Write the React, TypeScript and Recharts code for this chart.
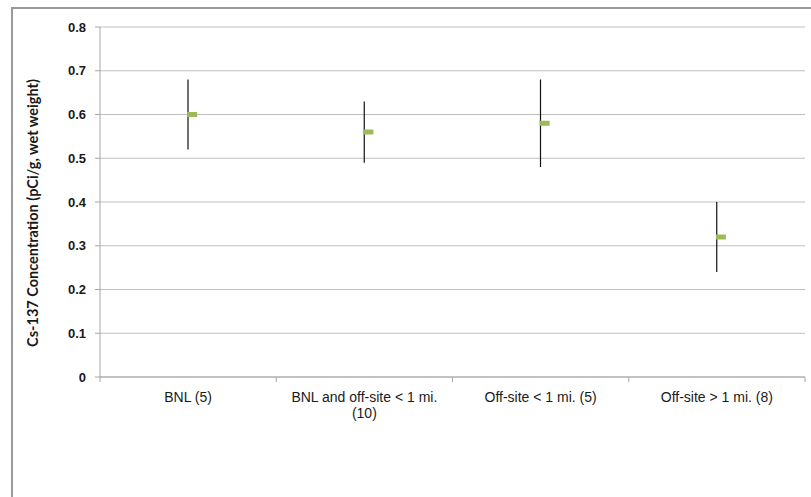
import { ComposedChart, Bar, Scatter, XAxis, YAxis, CartesianGrid, Label, Text } from 'recharts'

const categories = ['BNL (5)', 'BNL and off-site  < 1 mi. (10)', 'Off-site < 1 mi. (5)', 'Off-site > 1 mi. (8)']
const highs = [0.68, 0.63, 0.68, 0.4]
const lows = [0.52, 0.49, 0.48, 0.24]
const means = [0.6, 0.56, 0.58, 0.32]
const yTicks = [0, 0.1, 0.2, 0.3, 0.4, 0.5, 0.6, 0.7, 0.8]

const chartData = categories.map((name, i) => ({
  name,
  range: [lows[i], highs[i]],
  mean: means[i],
}))

const axisGray = '#a6a6a6'
const gridGray = '#bfbfbf'

const RangeLine = (props: any) => {
  const { x, y, width, height } = props
  const cx = x + width / 2
  const top = Math.min(y, y + height)
  const bottom = Math.max(y, y + height)
  return <line x1={cx} x2={cx} y1={top} y2={bottom} stroke="#111" strokeWidth={1.2} />
}

const MeanDash = (props: any) => {
  const { cx, cy } = props
  return <rect x={cx - 1} y={cy - 2.5} width={10} height={5} fill="#9bbb59" />
}

const CategoryTick = (props: any) => {
  const { x, y, payload, index } = props
  const half = payload && payload.offset ? payload.offset : 88
  return (
    <g>
      <line x1={x - half} x2={x - half} y1={y} y2={y + 5} stroke={axisGray} />
      {index === categories.length - 1 && (
        <line x1={x + half} x2={x + half} y1={y} y2={y + 5} stroke={axisGray} />
      )}
      <Text
        x={x}
        y={y + 15}
        width={half * 2 - 6}
        textAnchor="middle"
        verticalAnchor="start"
        lineHeight={16.5}
        fontSize={14}
        fontFamily="'Liberation Sans', Arial, sans-serif"
        fill="#1a1a1a"
      >
        {payload.value}
      </Text>
    </g>
  )
}

const YTitle = (props: any) => {
  const { viewBox } = props
  const x = viewBox.x + 19
  const y = viewBox.y + viewBox.height / 2 + 11
  return (
    <text
      x={x}
      y={y}
      transform={`rotate(-90, ${x}, ${y})`}
      textAnchor="middle"
      dominantBaseline="central"
      fontSize={14.5}
      fontWeight={700}
      fontFamily="Lato, 'Open Sans', sans-serif"
      fill="#1a1a1a"
    >
      Cs-137 Concentration (pCi/g, wet weight)
    </text>
  )
}

export default function App() {
  return (
    <div
      style={{
        position: 'absolute',
        left: 11,
        top: 7,
        width: 798,
        height: 488,
        borderLeft: '2px solid #9a9a9a',
        borderTop: '2px solid #9a9a9a',
        overflow: 'hidden',
        background: '#fff',
      }}
    >
      <ComposedChart width={798} height={488} data={chartData} margin={{ top: 18, right: 6, left: 0, bottom: 0 }}>
        <CartesianGrid horizontal vertical={false} stroke={gridGray} />
        <XAxis
          dataKey="name"
          height={120}
          interval={0}
          tickSize={0}
          tickMargin={0}
          tickLine={false}
          axisLine={{ stroke: axisGray }}
          tick={<CategoryTick />}
        />
        <YAxis
          width={87}
          domain={[0, 0.8]}
          ticks={yTicks}
          interval={0}
          tickSize={5}
          tickMargin={9}
          axisLine={{ stroke: axisGray }}
          tickLine={{ stroke: axisGray }}
          tick={{ fontSize: 13, fontWeight: 700, fill: '#1a1a1a', fontFamily: "'Liberation Sans', Arial, sans-serif" }}
        >
          <Label content={<YTitle />} />
        </YAxis>
        <Bar dataKey="range" barSize={10} shape={<RangeLine />} isAnimationActive={false} />
        <Scatter dataKey="mean" shape={<MeanDash />} isAnimationActive={false} />
      </ComposedChart>
    </div>
  )
}
